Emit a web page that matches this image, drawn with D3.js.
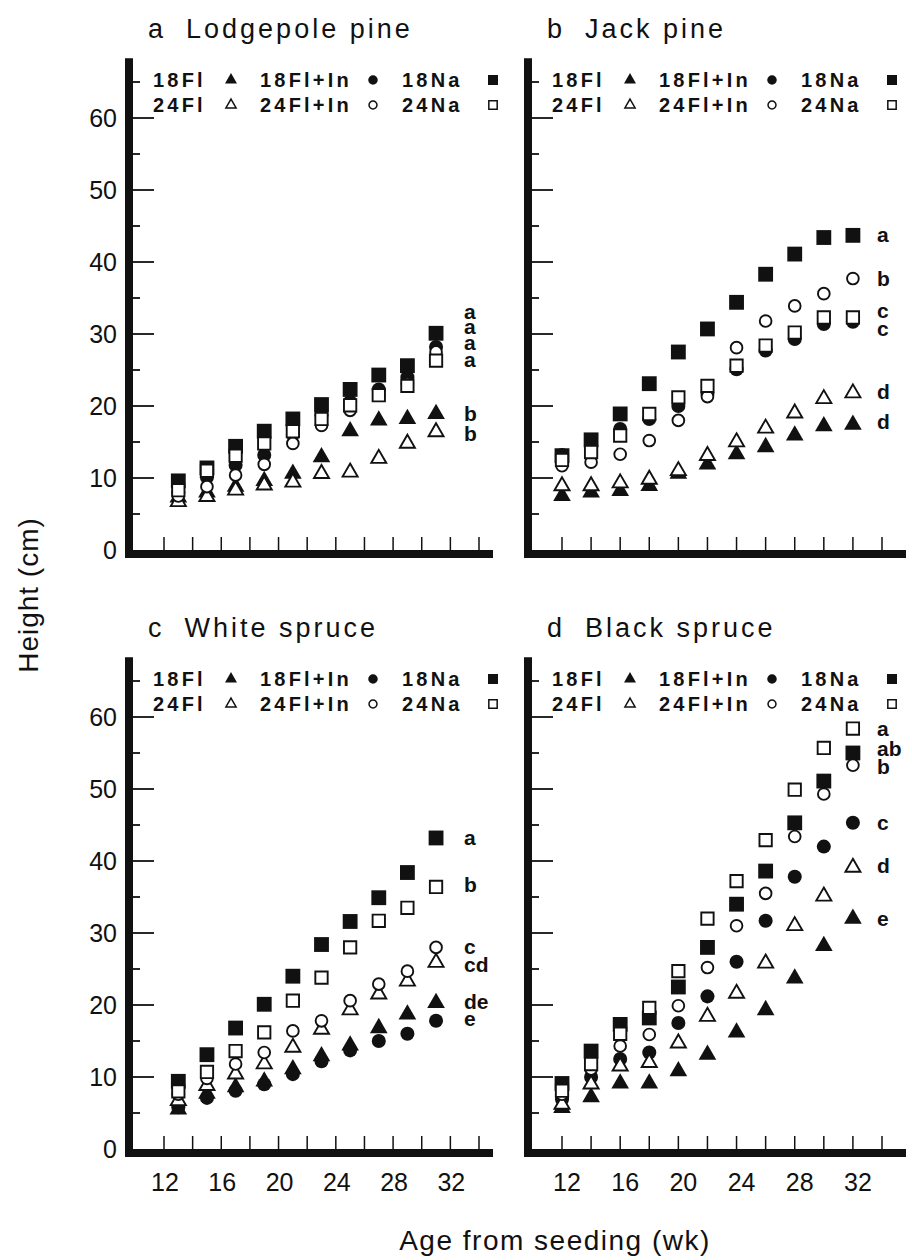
<!DOCTYPE html>
<html>
<head>
<meta charset="utf-8">
<script src="https://cdn.jsdelivr.net/npm/d3@7"></script>
<style>
  body { margin: 0; background: #fff; }
  svg { display: block; }
  text { font-family: "Liberation Sans", Arial, Helvetica, sans-serif; fill: #111; }
</style>
</head>
<body>
<svg id="chart" width="912" height="1260"></svg>
<script>
// weeks from seeding
const weeksOdd = [13, 15, 17, 19, 21, 23, 25, 27, 29, 31];
const weeksEven = [12, 14, 16, 18, 20, 22, 24, 26, 28, 30, 32];

// a  Lodgepole pine
const lpFl18   = [7.3, 8.0, 8.8, 9.6, 10.6, 12.9, 16.5, 18.0, 18.2, 18.9];
const lpFl24   = [6.7, 7.4, 8.3, 9.0, 9.4, 10.6, 10.8, 12.7, 14.8, 16.4];
const lpFlIn18 = [8.0, 10.1, 11.8, 13.2, 16.0, 18.7, 20.6, 22.3, 24.0, 28.2];
const lpFlIn24 = [7.5, 8.8, 10.4, 11.9, 14.8, 17.3, 19.4, 21.5, 23.1, 27.5];
const lpNa18   = [9.6, 11.4, 14.4, 16.5, 18.2, 20.2, 22.3, 24.3, 25.6, 30.1];
const lpNa24   = [8.3, 11.0, 13.1, 14.8, 16.5, 18.2, 20.1, 21.5, 22.8, 26.3];
const lpLetters = ['a', 'a', 'a', 'a', 'b', 'b'];
const lpLetterAt = [33.1, 31.0, 28.7, 26.4, 18.9, 16.1];

// b  Jack pine
const jpFl18   = [7.5, 8.0, 8.2, 8.9, 10.6, 11.9, 13.3, 14.3, 15.9, 17.2, 17.4];
const jpFl24   = [8.9, 8.9, 9.3, 9.8, 11.0, 13.1, 15.0, 16.9, 19.0, 21.0, 21.8];
const jpFlIn18 = [13.2, 14.5, 16.8, 18.2, 20.0, 21.7, 25.1, 27.7, 29.3, 31.4, 31.7];
const jpFlIn24 = [11.7, 12.2, 13.3, 15.2, 18.0, 21.3, 28.1, 31.8, 33.9, 35.6, 37.7];
const jpNa18   = [13.1, 15.3, 18.9, 23.1, 27.5, 30.7, 34.4, 38.3, 41.1, 43.4, 43.7];
const jpNa24   = [12.5, 13.6, 15.9, 18.9, 21.2, 22.8, 25.6, 28.4, 30.2, 32.3, 32.3];
const jpLetters = ['a', 'b', 'c', 'c', 'd', 'd'];
const jpLetterAt = [43.7, 37.7, 33.2, 30.7, 21.9, 17.8];

// c  White spruce
const wsFl18   = [5.5, 7.7, 8.6, 9.4, 11.1, 12.9, 14.4, 16.8, 18.7, 20.3];
const wsFl24   = [6.7, 8.8, 10.4, 11.8, 14.1, 16.6, 19.3, 21.5, 23.3, 25.9];
const wsFlIn18 = [5.8, 7.1, 8.1, 9.0, 10.4, 12.2, 13.7, 15.0, 16.0, 17.8];
const wsFlIn24 = [7.6, 9.8, 11.8, 13.4, 16.4, 17.8, 20.6, 22.9, 24.7, 28.0];
const wsNa18   = [9.4, 13.1, 16.8, 20.1, 24.0, 28.4, 31.6, 34.9, 38.4, 43.2];
const wsNa24   = [8.0, 10.7, 13.6, 16.2, 20.6, 23.8, 28.0, 31.7, 33.5, 36.4];
const wsLetters = ['a', 'b', 'c', 'cd', 'de', 'e'];
const wsLetterAt = [43.2, 36.6, 28.1, 25.6, 20.4, 18.1];

// d  Black spruce
const bsFl18   = [5.7, 7.2, 9.1, 9.1, 10.8, 13.1, 16.2, 19.3, 23.7, 28.2, 32.0];
const bsFl24   = [6.2, 9.0, 11.5, 12.0, 14.7, 18.4, 21.6, 25.8, 31.0, 35.1, 39.1];
const bsFlIn18 = [6.9, 10.0, 12.5, 13.4, 17.5, 21.2, 26.0, 31.7, 37.8, 42.0, 45.3];
const bsFlIn24 = [7.6, 11.1, 14.3, 15.9, 19.9, 25.2, 31.0, 35.5, 43.4, 49.3, 53.3];
const bsNa18   = [9.1, 13.6, 17.3, 18.2, 22.5, 28.0, 34.0, 38.6, 45.3, 51.1, 55.0];
const bsNa24   = [8.1, 11.8, 16.0, 19.6, 24.7, 32.0, 37.2, 42.9, 49.9, 55.7, 58.4];
const bsLetters = ['a', 'ab', 'b', 'c', 'd', 'e'];
const bsLetterAt = [58.4, 55.5, 53.0, 45.3, 39.3, 31.9];

const yTicks = [0, 10, 20, 30, 40, 50, 60];
const xTickLabels = [12, 16, 20, 24, 28, 32];
const legendRows = [['18Fl', '18Fl+In', '18Na'], ['24Fl', '24Fl+In', '24Na']];

const panels = [
  { tag: 'a', name: 'Lodgepole pine', col: 0, row: 0, weeks: weeksOdd,
    series: [lpFl18, lpFlIn18, lpNa18, lpFl24, lpFlIn24, lpNa24], letters: lpLetters, letterAt: lpLetterAt },
  { tag: 'b', name: 'Jack pine', col: 1, row: 0, weeks: weeksEven,
    series: [jpFl18, jpFlIn18, jpNa18, jpFl24, jpFlIn24, jpNa24], letters: jpLetters, letterAt: jpLetterAt },
  { tag: 'c', name: 'White spruce', col: 0, row: 1, weeks: weeksOdd,
    series: [wsFl18, wsFlIn18, wsNa18, wsFl24, wsFlIn24, wsNa24], letters: wsLetters, letterAt: wsLetterAt },
  { tag: 'd', name: 'Black spruce', col: 1, row: 1, weeks: weeksEven,
    series: [bsFl18, bsFlIn18, bsNa18, bsFl24, bsFlIn24, bsNa24], letters: bsLetters, letterAt: bsLetterAt }
];

// series order: 18Fl, 18Fl+In, 18Na, 24Fl, 24Fl+In, 24Na
const shapes = [d3.symbolTriangle, d3.symbolCircle, d3.symbolSquare];
const filledSize = [135, 155, 220];
const openSize = [98, 108, 152];

const colAxis = [129, 528];
const colRange = [[164, 479], [562, 882]];
const colEnd = [493, 906];
const rowZero = [550, 1149];

const svg = d3.select('#chart');

function marker(g, k, filled, x, y, scale) {
  const t = k % 3;
  const size = (filled ? filledSize[t] : openSize[t]) * scale;
  g.append('path')
    .attr('d', d3.symbol().type(shapes[t]).size(size)())
    .attr('transform', 'translate(' + x + ',' + y + ')')
    .attr('fill', filled ? '#111' : '#fff')
    .attr('stroke', filled ? 'none' : '#111')
    .attr('stroke-width', filled ? 0 : (scale < 1 ? 1.5 : 1.9));
}

panels.forEach(p => {
  const ax = colAxis[p.col];
  const y0 = rowZero[p.row];
  const x = d3.scaleLinear().domain([12, 34]).range(colRange[p.col]);
  const y = d3.scaleLinear().domain([0, 60]).range([y0, y0 - 432]);
  const g = svg.append('g');

  // title
  const title = g.append('text').attr('x', ax + 19).attr('y', y0 - 512)
    .style('font-size', '27px').style('letter-spacing', '3px');
  title.append('tspan').text(p.tag);
  title.append('tspan').attr('dx', 20).text(p.name);

  // legend
  const legX = [24, 102, 131, 244, 273, 364];
  legendRows.forEach((row, r) => {
    const by = y0 - 463 + r * 25;
    row.forEach((lab, i) => {
      g.append('text').attr('x', ax + legX[i * 2]).attr('y', by)
        .style('font-size', '20px').style('font-weight', 'bold')
        .style('letter-spacing', '3.2px').text(lab);
      marker(g, i, r === 0, ax + legX[i * 2 + 1], by - 7, 0.46);
    });
  });

  // y ticks inside the plot
  d3.range(5, 70, 5).forEach(v => {
    const major = v % 10 === 0;
    g.append('line').attr('x1', ax + 3).attr('x2', ax + (major ? 25 : 11))
      .attr('y1', y(v)).attr('y2', y(v))
      .attr('stroke', '#111').attr('stroke-width', 1.8);
  });

  // x ticks pointing up
  d3.range(12, 35, 2).forEach(w => {
    g.append('line').attr('x1', x(w)).attr('x2', x(w))
      .attr('y1', y0 + 1).attr('y2', y0 - 13)
      .attr('stroke', '#111').attr('stroke-width', 1.5);
  });

  // heavy axis lines
  g.append('rect').attr('x', ax - 4).attr('y', y(68.3)).attr('width', 8)
    .attr('height', y0 + 8 - y(68.3)).attr('fill', '#111');
  g.append('rect').attr('x', ax - 4).attr('y', y0).attr('width', colEnd[p.col] - ax + 4)
    .attr('height', 8).attr('fill', '#111');

  // y tick labels on the left panels
  if (p.col === 0) {
    yTicks.forEach(v => {
      g.append('text').attr('x', ax - 12).attr('y', y(v) + 9)
        .attr('text-anchor', 'end').style('font-size', '25px').text(v);
    });
  }
  // x tick labels on the bottom panels
  if (p.row === 1) {
    xTickLabels.forEach(w => {
      g.append('text').attr('x', x(w) + (p.col === 1 ? 5 : 1)).attr('y', y0 + 42)
        .attr('text-anchor', 'middle').style('font-size', '25px').text(w);
    });
  }

  // points: filled first, open symbols on top
  [0, 1, 2, 3, 4, 5].forEach(k => {
    p.series[k].forEach((v, i) => {
      marker(g, k, k < 3, x(p.weeks[i]), y(v), 1);
    });
  });

  // significance letters, one stacked text block per panel
  const lx = colEnd[p.col] - 29;
  const letters = g.append('text').style('font-size', '21px').style('font-weight', 'bold');
  p.letters.forEach((t, i) => {
    letters.append('tspan').attr('x', lx).attr('y', y(p.letterAt[i]) + 7).text(t);
  });
});

// axis titles
svg.append('text').attr('transform', 'translate(38,595) rotate(-90)')
  .attr('text-anchor', 'middle').style('font-size', '28px').style('letter-spacing', '1px')
  .text('Height (cm)');
svg.append('text').attr('x', 555).attr('y', 1250)
  .attr('text-anchor', 'middle').style('font-size', '28px').style('letter-spacing', '1.5px')
  .text('Age from seeding (wk)');
</script>
</body>
</html>
